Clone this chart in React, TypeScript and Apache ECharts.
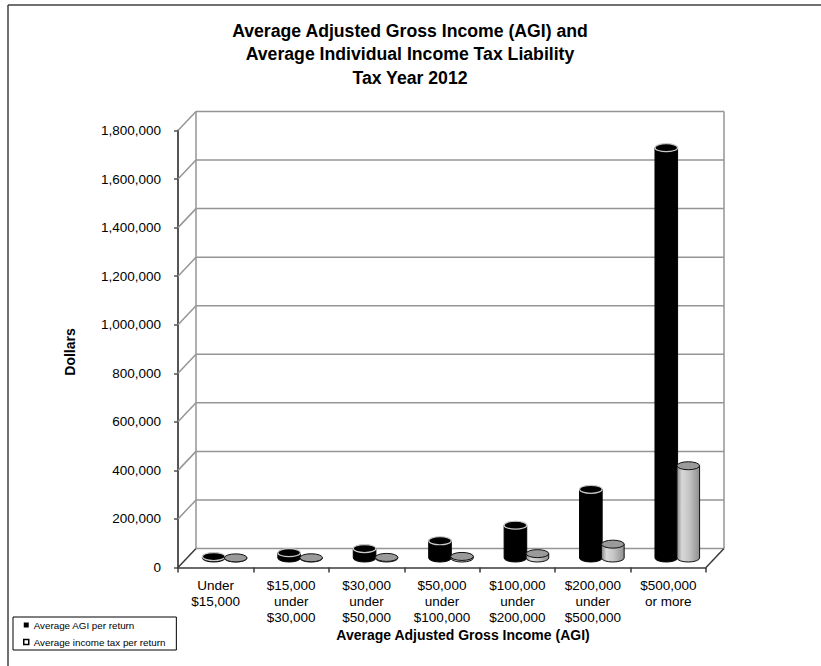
import React, { useEffect, useRef } from 'react';
import * as echarts from 'echarts';

const categories = [
  'Under\n$15,000',
  '$15,000\nunder\n$30,000',
  '$30,000\nunder\n$50,000',
  '$50,000\nunder\n$100,000',
  '$100,000\nunder\n$200,000',
  '$200,000\nunder\n$500,000',
  '$500,000\nor more',
];
const avgAgi = [6000, 22000, 39000, 71000, 135000, 283000, 1690000];
const avgTax = [500, 1000, 2500, 6500, 18000, 57000, 380000];
const yMax = 1800000;
const yStep = 200000;
const yTicks = [0, 200000, 400000, 600000, 800000, 1000000, 1200000, 1400000, 1600000, 1800000];

const titleLines = [
  'Average Adjusted Gross Income (AGI) and',
  'Average Individual Income Tax Liability',
  'Tax Year 2012',
];
const seriesNames = ['Average AGI per return', 'Average income tax per return'];
const FONT = "'Liberation Sans', Arial, sans-serif";
const DX = 18; // depth offset x
const DY = 19; // depth offset y (upwards)
const RX = 11.3;
const RY = 4;

function wallItem(params: any, api: any) {
  const v = api.value(1);
  const band = api.size([1, 0])[0];
  const pL = api.coord([0, v]);
  const pR = api.coord([categories.length - 1, v]);
  const xL = pL[0] - band / 2;
  const xR = pR[0] + band / 2;
  const y = pL[1];
  const y0 = api.coord([0, 0])[1];
  const yT = api.coord([0, yMax])[1];
  const grid = { stroke: '#959595', lineWidth: 1.5 };
  const dark = { stroke: '#3a3a3a', lineWidth: 1.5 };
  const children: any[] = [
    { type: 'line', shape: { x1: xL, y1: y, x2: xL + DX, y2: y - DY }, style: v === 0 ? dark : grid },
    { type: 'line', shape: { x1: xL + DX, y1: y - DY, x2: xR + DX, y2: y - DY }, style: grid },
  ];
  if (v === 0) {
    children.push({ type: 'line', shape: { x1: xR, y1: y, x2: xR + DX, y2: y - DY }, style: dark });
    children.push({ type: 'line', shape: { x1: xL + DX, y1: y0 - DY, x2: xL + DX, y2: yT - DY }, style: grid });
    children.push({ type: 'line', shape: { x1: xR + DX, y1: y0 - DY, x2: xR + DX, y2: yT - DY }, style: grid });
  }
  return { type: 'group', children };
}

function cylinderRenderer(offset: number, kind: 'black' | 'gray') {
  return (params: any, api: any) => {
    const idx = api.value(0);
    const v = api.value(1);
    const base = api.coord([idx, 0]);
    const top = api.coord([idx, v]);
    const cx = base[0] + DX / 2 + offset;
    const by = base[1] - DY / 2;
    const ty = top[1] - DY / 2;
    const l = cx - RX;
    const r = cx + RX;
    const body = `M${l},${ty} L${l},${by} A${RX},${RY} 0 0 0 ${r},${by} L${r},${ty} Z`;
    const cap = `M${l},${ty} A${RX},${RY} 0 0 0 ${r},${ty} A${RX},${RY} 0 0 0 ${l},${ty} Z`;
    const bodyStyle =
      kind === 'black'
        ? { fill: '#000', stroke: '#000', lineWidth: 1 }
        : {
            fill: {
              type: 'linear', x: 0, y: 0, x2: 1, y2: 0,
              colorStops: [
                { offset: 0, color: '#8a8a8a' },
                { offset: 0.22, color: '#d8d8d8' },
                { offset: 0.55, color: '#c4c4c4' },
                { offset: 1, color: '#8e8e8e' },
              ],
            },
            stroke: '#111',
            lineWidth: 1,
          };
    const capStyle =
      kind === 'black'
        ? { fill: '#000', stroke: '#c8c8c8', lineWidth: 1.2 }
        : { fill: '#9a9a9a', stroke: '#111', lineWidth: 1 };
    return {
      type: 'group',
      children: [
        { type: 'path', shape: { pathData: body }, style: bodyStyle },
        { type: 'path', shape: { pathData: cap }, style: capStyle },
      ],
    };
  };
}

export default function App() {
  const ref = useRef<HTMLDivElement>(null);
  useEffect(() => {
    document.body.style.margin = '0';
    if (!ref.current) return;
    const chart = echarts.init(ref.current, undefined, { renderer: 'svg' });
    chart.setOption({
      animation: false,
      backgroundColor: '#fff',
      textStyle: { fontFamily: FONT },
      legend: {
        orient: 'vertical',
        left: 13,
        top: 617,
        itemWidth: 5,
        itemHeight: 5,
        itemGap: 7,
        padding: [3, 11, 3, 10],
        borderColor: '#000',
        borderWidth: 1,
        textStyle: { fontSize: 9.8, color: '#000', fontFamily: FONT },
        data: [
          { name: seriesNames[0], icon: 'rect', itemStyle: { color: '#000', borderWidth: 0 } },
          { name: seriesNames[1], icon: 'rect', itemStyle: { color: '#fff', borderColor: '#000', borderWidth: 1.5 } },
        ],
      },
      grid: { left: 178, top: 130.5, width: 528, height: 437 },
      xAxis: {
        type: 'category',
        data: categories,
        axisLine: { lineStyle: { color: '#3a3a3a', width: 1.5 } },
        axisTick: { show: true, alignWithLabel: false, length: 5, lineStyle: { color: '#3a3a3a', width: 1.5 } },
        axisLabel: { interval: 0, fontSize: 13.5, lineHeight: 16, color: '#000', margin: 10, fontFamily: FONT },
        splitLine: { show: false },
      },
      yAxis: {
        type: 'value',
        min: 0,
        max: yMax,
        interval: yStep,
        axisLine: { show: true, lineStyle: { color: '#555', width: 2 } },
        axisTick: { show: true, length: 4, lineStyle: { color: '#555', width: 1.5 } },
        axisLabel: {
          fontSize: 13.5,
          color: '#000',
          margin: 17,
          fontFamily: FONT,
          formatter: (v: number) => v.toLocaleString('en-US'),
        },
        splitLine: { show: false },
      },
      graphic: [
        { type: 'line', shape: { x1: 8, y1: 5, x2: 821, y2: 5 }, style: { stroke: '#404040', lineWidth: 1.5 } },
        { type: 'line', shape: { x1: 8, y1: 5, x2: 8, y2: 666 }, style: { stroke: '#404040', lineWidth: 1.5 } },
        ...titleLines.map((t, i) => ({
          type: 'text',
          x: 410,
          y: 30 + i * 23.5,
          scaleX: 0.93,
          style: { text: t, textAlign: 'center', textVerticalAlign: 'middle', font: `bold 19px ${FONT}`, fill: '#000' },
        })),
        {
          type: 'text', x: 70, y: 352, rotation: Math.PI / 2,
          style: { text: 'Dollars', textAlign: 'center', textVerticalAlign: 'middle', font: `bold 14px ${FONT}`, fill: '#000' },
        },
        {
          type: 'text', x: 463, y: 635,
          style: { text: 'Average Adjusted Gross Income (AGI)', textAlign: 'center', textVerticalAlign: 'middle', font: `bold 14px ${FONT}`, fill: '#000' },
        },
      ],
      series: [
        {
          type: 'custom',
          name: 'wall',
          silent: true,
          z: 1,
          renderItem: wallItem,
          encode: { x: 0, y: 1 },
          data: yTicks.map((t) => [0, t]),
        },
        {
          type: 'custom',
          name: seriesNames[0],
          z: 3,
          itemStyle: { color: '#000' },
          renderItem: cylinderRenderer(-11, 'black'),
          encode: { x: 0, y: 1 },
          data: avgAgi.map((v, i) => [i, v]),
        },
        {
          type: 'custom',
          name: seriesNames[1],
          z: 4,
          itemStyle: { color: '#bfbfbf' },
          renderItem: cylinderRenderer(11, 'gray'),
          encode: { x: 0, y: 1 },
          data: avgTax.map((v, i) => [i, v]),
        },
      ],
    });
    return () => chart.dispose();
  }, []);
  return <div ref={ref} style={{ width: 821, height: 666 }} />;
}
